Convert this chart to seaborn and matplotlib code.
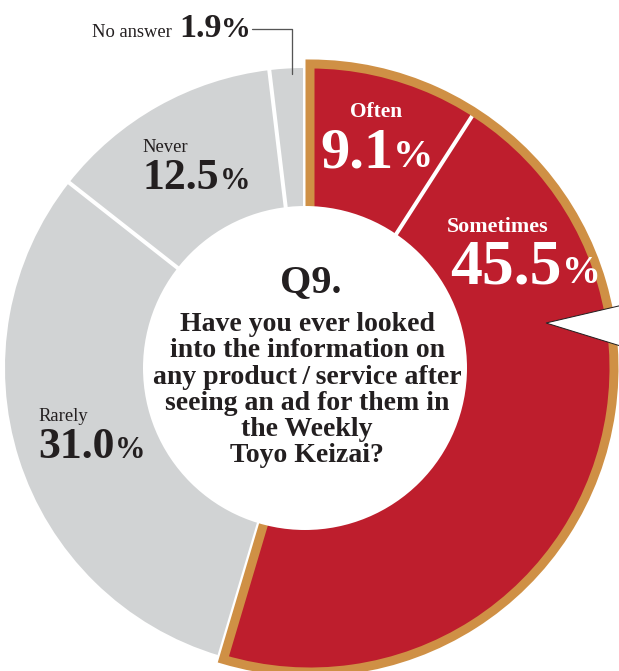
import numpy as np
import matplotlib
matplotlib.use("Agg")
import matplotlib.pyplot as plt
from matplotlib.patches import Wedge, Circle, Polygon
import seaborn as sns

# Survey answers, clockwise from 12 o'clock
categories = ["Often", "Sometimes", "Rarely", "Never", "No answer"]
shares = [9.1, 45.5, 31.0, 12.5, 1.9]
share_labels = ["9.1", "45.5", "31.0", "12.5", "1.9"]
highlight = [True, True, False, False, False]

question_title = "Q9."
question_lines = [
    "Have you ever looked",
    "into the information on",
    "any product\u2009/\u2009service after",
    "seeing an ad for them in",
    "the Weekly",
    "Toyo Keizai?",
]

RED = "#BE1E2D"
GOLD = "#CF9045"
GRAY = "#D1D3D4"
INK = "#231F20"

sns.set_theme(style="white")
plt.rcParams["font.family"] = ["Liberation Serif", "DejaVu Serif"]

W, H = 619, 671
fig = plt.figure(figsize=(W / 100, H / 100), dpi=100)
ax = fig.add_axes([0, 0, 1, 1])


def Y(y):
    return H - y


def pt(px):
    return px * 0.72


cx, cy = 305, Y(368)
r_out, r_in = 300, 162
shift = 5
r_red = 304

# angles of slice boundaries (degrees, matplotlib convention, clockwise from top)
cum = np.concatenate([[0], np.cumsum(shares)]) / 100.0
bounds = 90 - 360 * cum

# base grey ring
ax.pie(shares, colors=[GRAY] * len(shares), radius=r_out, center=(cx, cy),
       startangle=90, counterclock=False,
       wedgeprops=dict(width=r_out - r_in + 5, linewidth=0), frame=True)

# white separators between grey slices
for i, a in enumerate(bounds[:-1]):
    prev_hi = highlight[i - 1] if i > 0 else highlight[-1]
    if highlight[i] and prev_hi:
        continue
    t = np.deg2rad(a)
    ax.plot([cx + (r_in - 5) * np.cos(t), cx + (r_out + 2) * np.cos(t)],
            [cy + (r_in - 5) * np.sin(t), cy + (r_out + 2) * np.sin(t)],
            color="white", lw=pt(4), solid_capstyle="butt", zorder=2)

# highlighted answers, slightly pulled out
rcx = cx + shift
ax.pie(shares, colors=[RED if h else "none" for h in highlight], radius=r_red,
       center=(rcx, cy), startangle=90, counterclock=False,
       wedgeprops=dict(linewidth=0, zorder=3), frame=True)

hi_idx = [i for i, h in enumerate(highlight) if h]
for i in hi_idx[:-1]:
    t = np.deg2rad(bounds[i + 1])
    ax.plot([rcx + (r_in - 5) * np.cos(t), rcx + r_red * np.cos(t)],
            [cy + (r_in - 5) * np.sin(t), cy + r_red * np.sin(t)],
            color="white", lw=pt(4), solid_capstyle="butt", zorder=4)

ax.add_patch(Wedge((rcx, cy), r_red, bounds[hi_idx[-1] + 1], bounds[hi_idx[0]],
                   fill=False, edgecolor=GOLD, lw=pt(9), joinstyle="miter",
                   zorder=5))

# centre hole
ax.add_patch(Circle((cx, cy), r_in, facecolor="white", edgecolor="none",
                    zorder=6))

# callout notch on the right
ax.add_patch(Polygon([(640, Y(301)), (546, Y(323)), (640, Y(352))],
                     closed=True, facecolor="white", edgecolor=INK,
                     lw=pt(1), zorder=7))

ax.set_xlim(0, W)
ax.set_ylim(0, H)
ax.set_aspect("auto")
ax.axis("off")

# labels
renderer = fig.canvas.get_renderer()
inv = ax.transData.inverted()


def number(x, y, val, size, pct_size, color, gap=0):
    t = ax.text(x, Y(y), val, fontsize=size, fontweight="bold", color=color,
                ha="left", va="baseline", zorder=9)
    bb = t.get_window_extent(renderer=renderer)
    x_end = inv.transform((bb.x1, bb.y0))[0]
    ax.text(x_end + gap, Y(y), "%", fontsize=pct_size, fontweight="bold",
            color=color, ha="left", va="baseline", zorder=9)


ax.text(376, Y(117), categories[0], fontsize=15.4, fontweight="bold",
        color="white", ha="center", va="baseline", zorder=9)
number(320, 167, share_labels[0], 42, 29, "white")

ax.text(498, Y(232), categories[1], fontsize=15.8, fontweight="bold",
        color="white", ha="center", va="baseline", zorder=9)
number(450, 283, share_labels[1], 46, 28, "white")

ax.text(38, Y(421), categories[2], fontsize=13.4, color=INK,
        ha="left", va="baseline", zorder=9)
number(38, 458, share_labels[2], 31.5, 22, INK)

ax.text(142, Y(152), categories[3], fontsize=13.4, color=INK,
        ha="left", va="baseline", zorder=9)
number(143, 189, share_labels[3], 31.5, 22, INK)

ax.text(92, Y(37), categories[4], fontsize=13.3, color=INK,
        ha="left", va="baseline", zorder=9)
number(179, 37, share_labels[4], 24.5, 21.5, INK)

# leader line for the smallest slice
ax.plot([252, 292, 292], [Y(29), Y(29), Y(74)], color="#555555",
        lw=pt(1.3), zorder=8)

# question in the centre
ax.text(311, Y(292), question_title, fontsize=29, fontweight="bold",
        color=INK, ha="center", va="baseline", zorder=9)
for k, line in enumerate(question_lines):
    ax.text(307, Y(331 + 26.3 * k), line, fontsize=20, fontweight="bold",
            color=INK, ha="center", va="baseline", zorder=9)

fig.savefig("out.png", dpi=100, facecolor="white")
